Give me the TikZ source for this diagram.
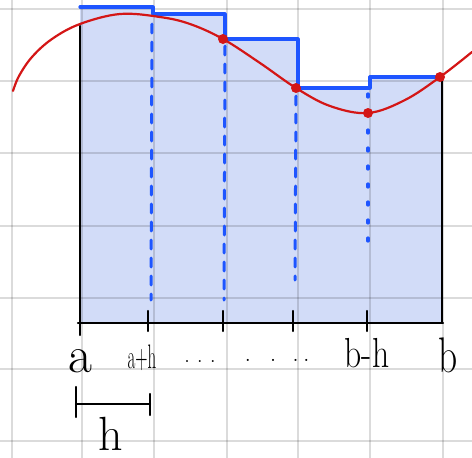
\documentclass[tikz,border=0pt]{standalone}
\usepackage{fontspec}
\definecolor{fillc}{RGB}{210,220,248}
\definecolor{stepc}{RGB}{30,85,255}
\definecolor{curvec}{RGB}{212,22,22}
\tikzset{
  gridline/.style={black, opacity=0.14, line width=2.2},
  stepline/.style={stepc, line width=3.2},
  dashline/.style={stepc, line width=3, dash pattern=on 9pt off 9pt},
  dotline/.style={stepc, line width=3.2, dash pattern=on 3pt off 15pt},
  axisline/.style={black, line width=2.4},
  fcurve/.style={curvec, line width=2.2},
  fdot/.style={curvec},
  lbl/.style={inner sep=0, anchor=base, text=black}
}
\begin{document}
\begin{tikzpicture}[x=1pt,y=-1pt,line cap=round,line join=round]
\useasboundingbox (0,0) rectangle (472,458);
\fill[white] (0,0) rectangle (472,458);
% shaded area under step function
\fill[fillc] (80,7) -| (153,14) -| (225,39) -| (298,88) -| (370,77) -| (442,323) -| (80,7) -- cycle;
% grid
\foreach \gx in {12,82,154,227,298,370,443} \draw[gridline] (\gx,0) -- (\gx,458);
\foreach \gy in {9,81,153,226,298,369,441} \draw[gridline] (0,\gy) -- (472,\gy);
% dashed verticals
\draw[dashline] (152,24) -- (151,300);
\draw[dashline] (225,46) -- (224,300);
\draw[dashline] (296,96) -- (295,280);
\draw[dotline] (368,94) -- (368,250);
% step function
\draw[stepline] (80,7) -| (153,14) -| (225,39) -| (298,88) -| (370,77) -- (442,77);
% black frame and axis
\draw[axisline] (80,26) -- (80,335);
\draw[axisline] (442,77) -- (442,323);
\draw[axisline] (78,323) -- (443,323);
\foreach \tx in {148,223,293,367} \draw[axisline] (\tx,311) -- (\tx,331);
% red curve
\draw[fcurve] plot[smooth, tension=0.6] coordinates {(13,91) (19,76) (32,57) (52,39) (80,24) (120,14) (160,17) (190,24) (223,39) (260,63) (296,88) (330,106) (368,113) (405,100) (440,77) (472,52)};
\fill[fdot] (223,39) circle (5);
\fill[fdot] (296,88) circle (5);
\fill[fdot] (368,113) circle (5);
\fill[fdot] (440,77) circle (5);
% labels
\node[lbl] (la) at (80,372) {\fontsize{52}{52}\selectfont a};
\node[lbl] (lah) at (142,368) {\scalebox{0.5}[1]{\fontsize{34}{34}\selectfont a+h}};
\node[lbl] (ld1) at (200,362) {\fontsize{24}{24}\selectfont .\hspace{7pt}.\hspace{7pt}.};
\node[lbl] (ld2) at (277,361) {\fontsize{26}{26}\selectfont .\hspace{19pt}.\hspace{16pt}.\hspace{4pt}.};
\node[lbl] (lbh) at (367,367) {\scalebox{0.8}[1]{\fontsize{42}{42}\selectfont b-h}};
\node[lbl] (lb) at (448,372) {\scalebox{0.75}[1]{\fontsize{50}{50}\selectfont b}};
% h bracket
\coordinate (hl) at (76,404);
\coordinate (hr) at (150,404);
\draw[axisline] (hl) -- (hr);
\draw[axisline] (76,387) -- (76,417);
\draw[axisline] (150,394) -- (150,415);
\node[lbl] (lh) at (111,450) {\fontsize{48}{48}\selectfont h};
\end{tikzpicture}
\end{document}
